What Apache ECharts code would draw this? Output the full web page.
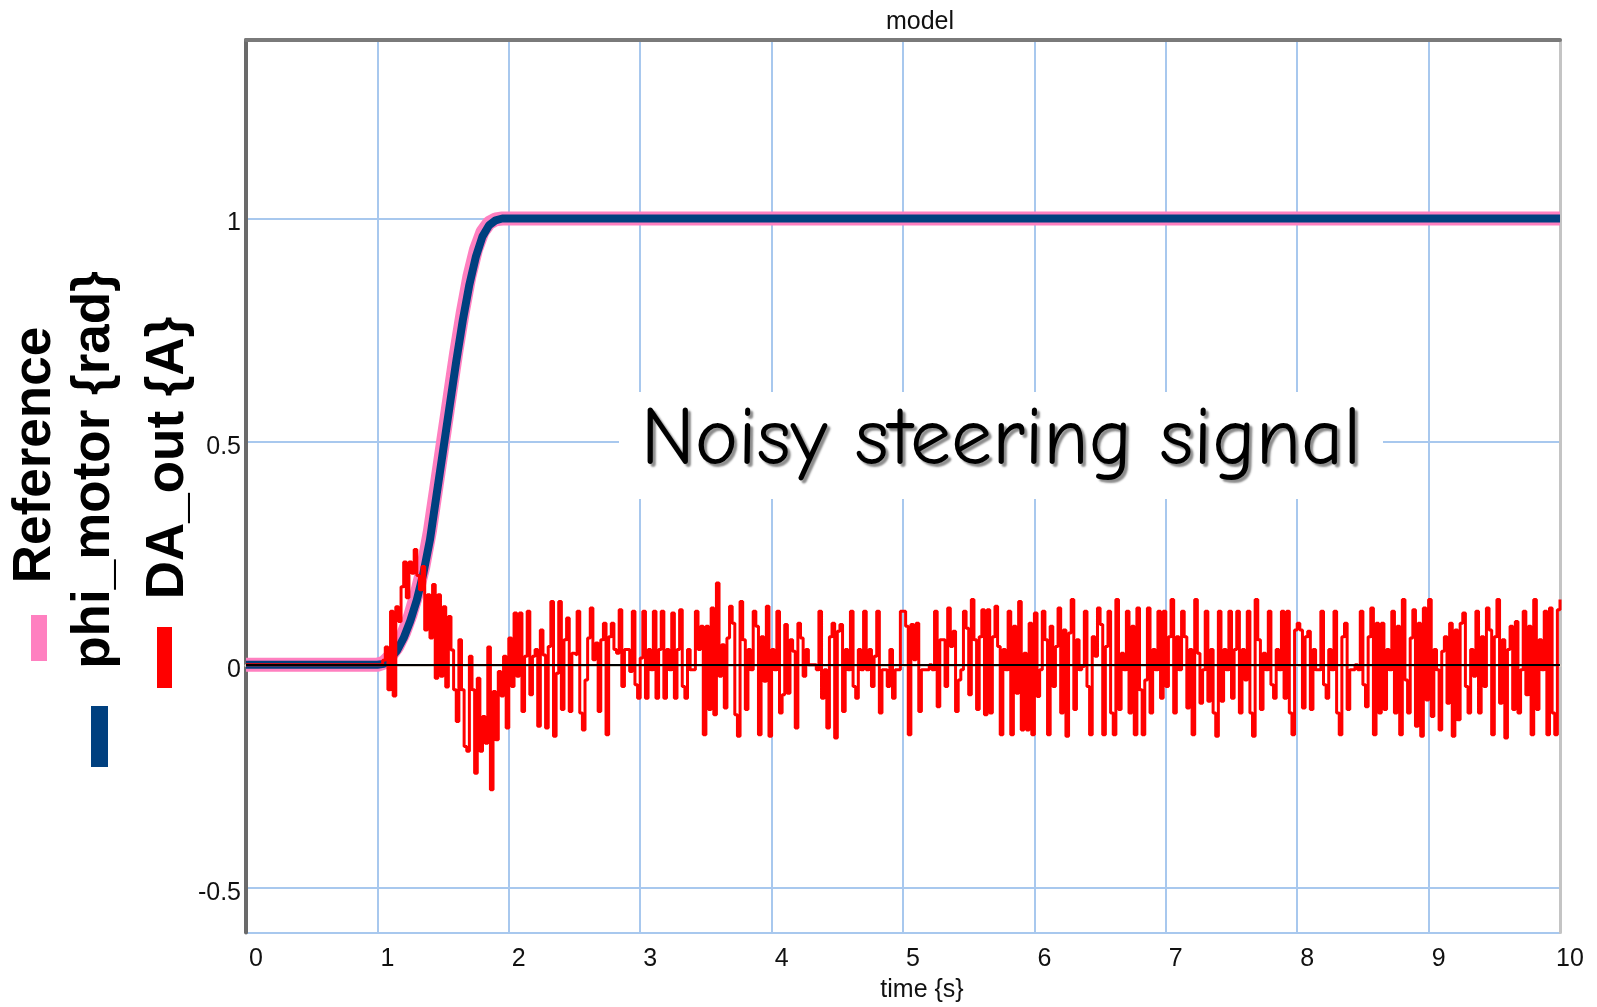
<!DOCTYPE html>
<html>
<head>
<meta charset="utf-8">
<title>model</title>
<script src="https://cdn.jsdelivr.net/npm/echarts@6/dist/echarts.min.js"></script>
<style>
  html, body { margin: 0; padding: 0; background: #fff; }
  #main { width: 1597px; height: 1007px; }
</style>
</head>
<body>
<div id="main"></div>
<script>
// axis ticks
const xTicks = [0, 1, 2, 3, 4, 5, 6, 7, 8, 9, 10];
const yRange = [-0.6, 1.4];

// Reference and phi_motor, read at these times (s)
const refTime = [0, 1, 1.05, 1.1, 1.15, 1.2, 1.25, 1.3, 1.35, 1.4, 1.45, 1.5, 1.55, 1.6, 1.65, 1.7, 1.75, 1.8, 1.85, 1.9, 1.95, 2, 10];
const refValues = [0, 0, 0.005, 0.02, 0.04, 0.07, 0.11, 0.16, 0.22, 0.30, 0.40, 0.50, 0.60, 0.70, 0.79, 0.87, 0.93, 0.97, 0.99, 0.998, 1, 1, 1];
const phiValues = [0, 0, 0.002, 0.014, 0.032, 0.06, 0.098, 0.145, 0.205, 0.28, 0.38, 0.48, 0.58, 0.68, 0.772, 0.852, 0.915, 0.96, 0.985, 0.996, 1, 1, 1];

// DA_out, one value every 0.02 s, one array per second
const daStep = 0.02;
const daOut0 = [0,0,0,0,0,0,0,0,0,0, 0,0,0,0,0,0,0,0,0,0, 0,0,0,0,0,0,0,0,0,0, 0,0,0,0,0,0,0,0,0,0, 0,0,0,0,0,0,0,0,0,0];
const daOut1 = [0, 0, 0.01, 0.04, -0.056, 0.12, -0.07, 0.13, 0.097, 0.175,
  0.23, 0.15, 0.23, 0.205, 0.258, 0.2, 0.168, 0.22, 0.078, 0.157,
  0.06, 0.18, -0.03, 0.157, -0.026, 0.13, -0.05, 0.108, 0.033, -0.056,
  -0.127, 0.056, -0.056, -0.183, -0.194, 0.019, -0.056, -0.243, -0.03, -0.194,
  -0.116, -0.176, 0.04, -0.28, -0.06, -0.168, -0.015, -0.07, 0.019, -0.142];
const daOut2 = [0.06, -0.049, 0.116, -0.026, 0.116, -0.105, 0.019, 0.12, -0.067, 0.019,
  0.034, -0.138, 0.078, 0.022, -0.142, 0.041, 0.142, -0.16, -0.019, 0.142,
  -0.1, 0.056, 0.105, -0.105, 0.026, 0.022, 0.12, -0.108, -0.146, -0.034,
  0.06, 0.127, 0.011, 0.049, -0.105, 0.056, 0.093, -0.157, 0.063, 0.093,
  0.034, 0.026, 0.123, -0.049, 0.034, 0.034, -0.015, 0.12, -0.045, -0.075];
const daOut3 = [0.015, 0.12, -0.075, 0.034, -0.011, 0.12, -0.075, 0.034, 0.12, -0.075,
  0.034, -0.011, 0.116, -0.075, 0.034, 0.123, -0.049, -0.075, 0.034, -0.011,
  -0.011, 0.12, 0.034, 0.086, -0.157, 0.086, -0.1, 0.127, -0.112, 0.183,
  -0.026, 0.045, -0.097, 0.06, 0.131, 0.093, -0.112, -0.16, 0.142, 0.056,
  -0.1, 0.034, -0.011, 0.12, 0.086, -0.157, 0.063, -0.037, 0.131, -0.16];
const daOut4 = [0.034, -0.011, 0.12, -0.108, -0.067, 0.09, -0.064, 0.056, 0.03, -0.142,
  0.093, 0.06, -0.026, 0.034, 0, 0, 0, -0.011, 0.12, -0.075,
  -0.011, -0.142, 0.063, 0.093, -0.164, 0.075, 0.09, -0.105, 0.034, -0.011,
  0.12, -0.049, -0.075, 0.034, -0.011, 0.12, -0.011, 0.034, -0.049, 0.019,
  0.12, -0.108, -0.011, -0.011, -0.049, 0.034, -0.075, -0.011, -0.011, 0.12];
const daOut5 = [0.12, 0.086, -0.157, 0.09, 0.011, 0.093, -0.105, -0.011, -0.011, -0.011,
  0, -0.011, 0.12, -0.094, 0.056, 0.056, -0.049, 0.127, 0.041, 0.075,
  -0.105, -0.034, -0.011, 0.12, 0.082, -0.067, 0.146, 0.056, -0.1, 0.063,
  0.123, -0.112, 0.123, -0.108, 0.063, 0.131, 0.041, -0.157, 0.034, -0.011,
  0.12, -0.157, 0.086, -0.064, 0.142, -0.146, 0.026, -0.146, 0.093, -0.157];
const daOut6 = [0.116, -0.071, -0.011, 0.12, 0.056, -0.157, 0.086, -0.049, 0.041, 0.127,
  -0.108, 0.078, -0.16, 0.071, 0.146, -0.1, 0.056, -0.011, -0.004, 0.12,
  -0.049, -0.157, 0.063, 0.019, 0.127, 0.09, -0.157, 0.041, 0.12, -0.108,
  -0.157, 0.146, -0.1, 0.026, -0.011, 0.12, -0.108, 0.086, -0.157, 0.127,
  -0.056, -0.157, -0.034, 0.127, -0.108, 0.034, -0.011, 0.12, -0.075, 0.12];
const daOut7 = [-0.049, 0.063, 0.146, -0.108, 0.063, -0.011, 0.12, 0.063, -0.097, 0.034,
  -0.157, 0.146, 0.026, -0.086, -0.011, 0.12, -0.082, 0.034, -0.108, -0.16,
  0.12, -0.082, 0.034, -0.011, 0.12, -0.075, 0.034, 0.12, -0.108, 0.034,
  -0.034, 0.12, -0.108, -0.16, 0.146, 0.056, -0.1, 0.026, -0.011, 0.12,
  -0.045, -0.075, 0.034, -0.011, 0.12, -0.075, 0.12, -0.108, -0.157, 0.078];
const daOut8 = [0.093, 0.078, -0.097, 0.063, 0.075, -0.1, 0.034, -0.011, -0.011, 0.12,
  -0.045, -0.075, 0.034, -0.011, 0.12, -0.108, -0.157, 0.063, 0.093, -0.1,
  -0.011, -0.011, 0, -0.011, 0.12, -0.045, -0.094, 0.063, 0.127, -0.157,
  0.093, -0.108, 0.093, -0.1, 0.034, -0.011, 0.12, -0.108, 0.086, -0.157,
  0.146, -0.034, -0.108, 0.06, 0.123, -0.138, 0.093, -0.16, 0.127, -0.079];
const daOut9 = [0.146, -0.116, 0.034, -0.011, -0.146, 0.03, 0.063, -0.086, 0.093, -0.16,
  0.078, -0.123, 0.093, 0.116, -0.049, -0.108, 0.034, -0.026, 0.12, -0.108,
  0.063, -0.049, 0.127, 0.078, -0.157, 0.063, 0.146, -0.086, 0.056, -0.164,
  0.034, 0.086, -0.1, 0.097, -0.108, -0.011, 0.12, -0.067, 0.086, -0.157,
  0.146, -0.1, 0.056, -0.011, 0.12, -0.157, 0.127, -0.108, -0.157, 0.123];
const daOutEnd = 0.146;

const FONT = "'Liberation Sans', Arial, sans-serif";

function pairs(ts, vs) {
  return ts.map((t, i) => [t, vs[i]]);
}

function daData() {
  const all = [].concat(daOut0, daOut1, daOut2, daOut3, daOut4, daOut5, daOut6, daOut7, daOut8, daOut9);
  const pts = all.map((v, k) => [Math.round(k * daStep * 100) / 100, v]);
  pts.push([10, daOutEnd]);
  return pts;
}

const myChart = echarts.init(document.getElementById("main"));
myChart.setOption({
  animation: false,
  backgroundColor: "#ffffff",
  title: {
    text: "model",
    left: 915,
    top: 5,
    textAlign: "center",
    textStyle: { fontFamily: FONT, fontSize: 25, fontWeight: "normal", color: "#111" },
  },
  grid: { left: 246, right: 37, top: 40, bottom: 74.5 },
  xAxis: [
    {
      type: "value",
      min: xTicks[0],
      max: xTicks[xTicks.length - 1],
      interval: 1,
      axisLine: { show: true, lineStyle: { color: "#d6d0c8", width: 3 } },
      axisTick: { show: false },
      axisLabel: {
        fontFamily: FONT,
        fontSize: 25,
        color: "#111",
        margin: 14,
        padding: [0, 0, 0, 20],
      },
      splitLine: { lineStyle: { color: "#a8c8ee", width: 2 } },
    },
    {
      type: "value",
      position: "top",
      min: xTicks[0],
      max: xTicks[xTicks.length - 1],
      axisLine: { show: true, onZero: false, lineStyle: { color: "#7a7a7a", width: 4 } },
      axisTick: { show: false },
      axisLabel: { show: false },
      splitLine: { show: false },
    },
  ],
  yAxis: [
    {
      type: "value",
      min: yRange[0],
      max: yRange[1],
      splitNumber: 4,
      axisLine: { show: true, onZero: false, lineStyle: { color: "#6a6a6a", width: 4 } },
      axisTick: { show: false },
      axisLabel: {
        margin: 5,
        showMinLabel: false,
        showMaxLabel: false,
        formatter: "{v|{value}}",
        rich: {
          v: { fontFamily: FONT, fontSize: 25, color: "#111", padding: [10, 0, 0, 0] },
        },
      },
      splitLine: { lineStyle: { color: "#a8c8ee", width: 2 } },
    },
    {
      type: "value",
      position: "right",
      min: yRange[0],
      max: yRange[1],
      axisLine: { show: true, onZero: false, lineStyle: { color: "#c4c4c4", width: 3 } },
      axisTick: { show: false },
      axisLabel: { show: false },
      splitLine: { show: false },
    },
  ],
  series: [
    {
      name: "zero",
      type: "line",
      data: [],
      z: 1,
      markLine: {
        silent: true,
        symbol: ["none", "none"],
        label: { show: false },
        lineStyle: { color: "#000", width: 2, type: "solid" },
        data: [{ yAxis: 0 }],
      },
    },
    {
      name: "Reference",
      type: "line",
      data: pairs(refTime, refValues),
      showSymbol: false,
      z: 2,
      lineStyle: { color: "#ff80c0", width: 14 },
    },
    {
      name: "phi_motor {rad}",
      type: "line",
      data: pairs(refTime, phiValues),
      showSymbol: false,
      z: 3,
      lineStyle: { color: "#00407f", width: 8 },
    },
    {
      name: "DA_out {A}",
      type: "line",
      step: "end",
      data: daData(),
      showSymbol: false,
      sampling: "none",
      z: 4,
      lineStyle: { color: "#ff0000", width: 3 },
    },
  ],
  graphic: [
    // annotation box
    {
      type: "rect",
      shape: { x: 619, y: 392, width: 764, height: 107 },
      style: { fill: "#ffffff" },
      z: 50,
    },
    {
      type: "text",
      x: 1001,
      y: 441,
      z: 51,
      style: {
        text: "Noisy steering signal",
        fontFamily: "'Comic Sans MS', 'Comic Neue', " + FONT,
        fontSize: 82,
        fill: "#000",
        textAlign: "center",
        textVerticalAlign: "middle",
        textShadowColor: "rgba(0,0,0,0.45)",
        textShadowOffsetX: 3,
        textShadowOffsetY: 3,
        textShadowBlur: 2,
      },
    },
    // x axis name
    {
      type: "text",
      x: 922,
      y: 990,
      style: {
        text: "time {s}",
        fontFamily: FONT,
        fontSize: 25,
        fill: "#111",
        textAlign: "center",
        textVerticalAlign: "middle",
      },
    },
    // legend, vertical
    {
      type: "text",
      x: 35,
      y: 455,
      rotation: Math.PI / 2,
      style: {
        text: "Reference",
        fontFamily: FONT,
        fontSize: 53,
        fontWeight: "bold",
        fill: "#000",
        textAlign: "center",
        textVerticalAlign: "middle",
      },
    },
    {
      type: "text",
      x: 94,
      y: 470,
      rotation: Math.PI / 2,
      style: {
        text: "phi_motor {rad}",
        fontFamily: FONT,
        fontSize: 53,
        fontWeight: "bold",
        fill: "#000",
        textAlign: "center",
        textVerticalAlign: "middle",
      },
    },
    {
      type: "text",
      x: 168,
      y: 458,
      rotation: Math.PI / 2,
      style: {
        text: "DA_out {A}",
        fontFamily: FONT,
        fontSize: 53,
        fontWeight: "bold",
        fill: "#000",
        textAlign: "center",
        textVerticalAlign: "middle",
      },
    },
    { type: "rect", shape: { x: 31, y: 615, width: 16, height: 46 }, style: { fill: "#ff80c0" } },
    { type: "rect", shape: { x: 91, y: 706, width: 17, height: 61 }, style: { fill: "#00407f" } },
    { type: "rect", shape: { x: 157, y: 627, width: 15, height: 61 }, style: { fill: "#ff0000" } },
  ],
});
</script>
</body>
</html>
